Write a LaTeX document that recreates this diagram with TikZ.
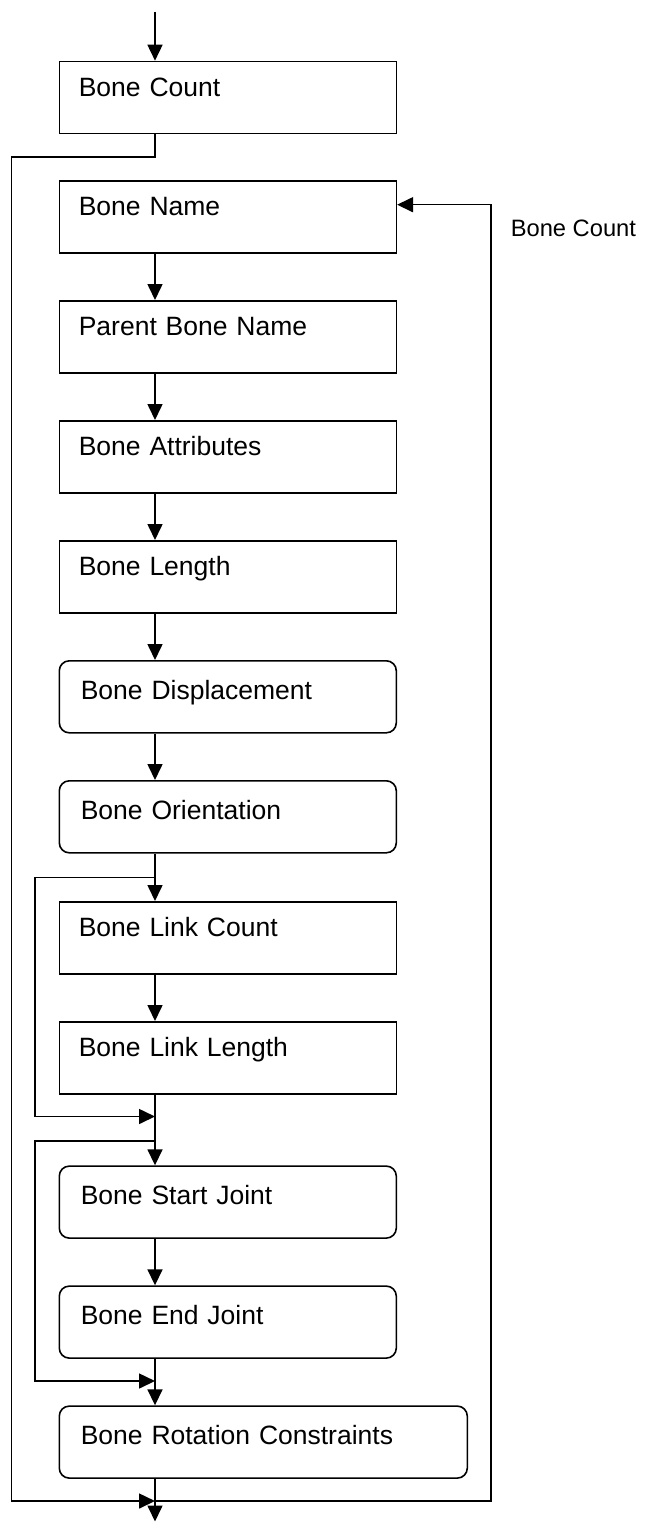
\documentclass[tikz,border=0pt]{standalone}
\usepackage{fontspec}
\setmainfont{Liberation Sans}
\usetikzlibrary{arrows.meta,calc}
\begin{document}
\begin{tikzpicture}[x=1pt,y=-1pt,
  line width=1.6pt,
  arr/.style={-{Triangle[length=16pt,width=15pt]}},
  boxbase/.style={draw, anchor=north west, inner ysep=0pt, align=left, font=\fontsize{26.5}{30}\selectfont},
  sqbox/.style={boxbase, inner xsep=19.5pt, text width=298pt, text height=35pt, text depth=37pt},
  rdbox/.style={boxbase, rounded corners=10pt, inner xsep=21.5pt, text width=294pt, text height=38.5pt, text depth=33.5pt},
  lbl/.style={anchor=base west, inner sep=0pt, font=\fontsize{23.7}{28}\selectfont},
]
\useasboundingbox (0,0) rectangle (657,1522);

\node[sqbox] (bc)  at (58.5,60.7)  {Bone Count};
\node[sqbox] (bn)  at (58.5,180)   {Bone Name};
\node[sqbox] (pbn) at (58.5,300)   {Parent Bone Name};
\node[sqbox] (ba)  at (58.5,420)   {Bone Attributes};
\node[sqbox] (bl)  at (58.5,540)   {Bone Length};
\node[rdbox] (bd)  at (58.5,660)   {Bone Displacement};
\node[rdbox] (bo)  at (58.5,780)   {Bone Orientation};
\node[sqbox] (blc) at (58.5,901)   {Bone Link Count};
\node[sqbox] (bll) at (58.5,1021)  {Bone Link Length};
\node[rdbox] (bsj) at (58.5,1165.3) {Bone Start Joint};
\node[rdbox] (bej) at (58.5,1285.3) {Bone End Joint};
\node[rdbox, text width=365pt] (brc) at (58.5,1405.3) {Bone Rotation Constraints};

\node[lbl] (cnt) at (510,236.7) {Bone Count};

\coordinate (sp)  at (155,0);
\coordinate (top) at (155,12);
\coordinate (out) at (155,1521.5);
\coordinate (b1)  at (155,157);
\coordinate (l1)  at (11.5,157);
\coordinate (l2)  at (11.5,1501);
\coordinate (m)   at (155,1501);
\coordinate (r1)  at (491,1501);
\coordinate (r2)  at (491,204.7);
\coordinate (a1)  at (155,877.3);
\coordinate (a2)  at (35,877.3);
\coordinate (a3)  at (35,1116.5);
\coordinate (a4)  at (155,1116.5);
\coordinate (c1)  at (155,1140.7);
\coordinate (c2)  at (35,1140.7);
\coordinate (c3)  at (35,1381);
\coordinate (c4)  at (155,1381);

\draw[arr] (top) -- (bc.north -| sp);
\draw[arr] (bc.south -| sp) -- (b1) -- (l1) -- (l2) -- (m);
\draw[arr] (brc.south -| sp) -- (m) -- (r1) -- (r2) -- (bn.east |- r2);
\draw[arr] (m) -- (out);

\draw[arr] (bn.south -| sp)  -- (pbn.north -| sp);
\draw[arr] (pbn.south -| sp) -- (ba.north -| sp);
\draw[arr] (ba.south -| sp)  -- (bl.north -| sp);
\draw[arr] (bl.south -| sp)  -- (bd.north -| sp);
\draw[arr] (bd.south -| sp)  -- (bo.north -| sp);
\draw[arr] (bo.south -| sp)  -- (blc.north -| sp);
\draw[arr] (blc.south -| sp) -- (bll.north -| sp);
\draw[arr] (bll.south -| sp) -- (bsj.north -| sp);
\draw[arr] (bsj.south -| sp) -- (bej.north -| sp);
\draw[arr] (bej.south -| sp) -- (brc.north -| sp);

\draw[arr] (a1) -- (a2) -- (a3) -- (a4);
\draw[arr] (c1) -- (c2) -- (c3) -- (c4);
\end{tikzpicture}
\end{document}
